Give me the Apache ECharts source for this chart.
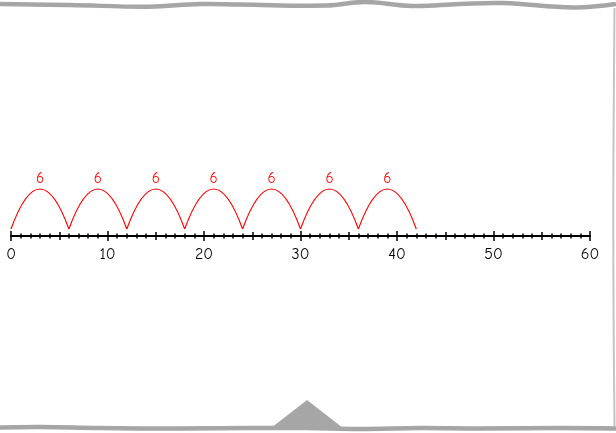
<!DOCTYPE html>
<html>
<head>
<meta charset="utf-8">
<script src="https://cdn.jsdelivr.net/npm/echarts@6/dist/echarts.min.js"></script>
<style>
html,body{margin:0;padding:0;background:#fff;}
#chart{width:616px;height:433px;}
</style>
</head>
<body>
<div id="chart"></div>
<script>
// number line
const axisMin = 0;
const axisMax = 60;
const majorStep = 10;
const midStep = 5;
const minorStep = 1;
// jumps (start, end, label)
const jumpFrom = [0, 6, 12, 18, 24, 30, 36];
const jumpTo = [6, 12, 18, 24, 30, 36, 42];
const jumpLabels = ['6', '6', '6', '6', '6', '6', '6'];

const FONT = '"Comic Sans MS", "Comic Neue", "Open Sans", sans-serif';
const chart = echarts.init(document.getElementById('chart'));

function tickAxis(interval, len, inside, showLine, showLabel) {
  return {
    type: 'value', min: axisMin, max: axisMax, interval: interval,
    position: 'bottom', gridIndex: 0,
    axisLine: {show: showLine, lineStyle: {color: '#000', width: 2}},
    axisTick: {show: true, inside: inside, length: len, lineStyle: {color: '#000', width: 1.5}},
    axisLabel: {show: showLabel, color: '#000', fontSize: 16, fontFamily: FONT, margin: 10},
    splitLine: {show: false}
  };
}

const arcData = jumpFrom.map((f, i) => [f, jumpTo[i]]);

chart.setOption({
  animation: false,
  backgroundColor: '#fff',
  grid: {left: 11, right: 26, top: 100, bottom: 197, containLabel: false},
  xAxis: [
    tickAxis(majorStep, 5, false, true, true),
    tickAxis(majorStep, 5, true, false, false),
    tickAxis(midStep, 4, false, false, false),
    tickAxis(midStep, 4, true, false, false),
    tickAxis(minorStep, 2.5, false, false, false),
    tickAxis(minorStep, 2.5, true, false, false)
  ],
  yAxis: {type: 'value', min: 0, max: 1, show: false},
  series: [{
    type: 'custom',
    xAxisIndex: 0,
    yAxisIndex: 0,
    data: arcData,
    renderItem: function (params, api) {
      const p0 = api.coord([api.value(0), 0]);
      const p1 = api.coord([api.value(1), 0]);
      const lift = 7, h = 40;
      const y0 = p0[1] - lift;
      const cx = (p0[0] + p1[0]) / 2;
      return {
        type: 'group',
        children: [
          {type: 'bezierCurve',
           shape: {x1: p0[0], y1: y0, x2: p1[0], y2: y0, cpx1: cx, cpy1: y0 - 2 * h},
           style: {stroke: '#ff0000', fill: null, lineWidth: 1.2}},
          {type: 'text',
           style: {text: jumpLabels[params.dataIndex], x: cx, y: y0 - h - 10,
                   fill: '#ff0000', font: '15px ' + FONT, align: 'center', verticalAlign: 'middle'}}
        ]
      };
    }
  }],
  graphic: [
    {type: 'polyline', silent: true, z: 100,
     shape: {points: [[0,4],[70,5],[149,6.7],[200,4],[240,4.5],[326,5.5],[365,2],[412,5.9],[460,4],[503,3.1],[574,7.5],[616,4]], smooth: 0.4},
     style: {stroke: '#a6a6a6', lineWidth: 4.5, fill: null}},
    {type: 'polyline', silent: true, z: 100,
     shape: {points: [[614.5,8],[613.8,100],[613.3,200],[613.6,320],[614.5,426]], smooth: 0.4},
     style: {stroke: '#c4c4c4', lineWidth: 2, fill: null}},
    {type: 'polyline', silent: true, z: 100,
     shape: {points: [[0,427.5],[40,427],[100,428],[180,428.5],[250,428],[307,428],[360,429],[420,428],[480,428.5],[560,428],[616,428.5]], smooth: 0.4},
     style: {stroke: '#a6a6a6', lineWidth: 4.5, fill: null}},
    {type: 'polygon', silent: true, z: 100,
     shape: {points: [[271,428],[307,400],[343,428]]},
     style: {fill: '#a6a6a6'}}
  ]
});
</script>
</body>
</html>
